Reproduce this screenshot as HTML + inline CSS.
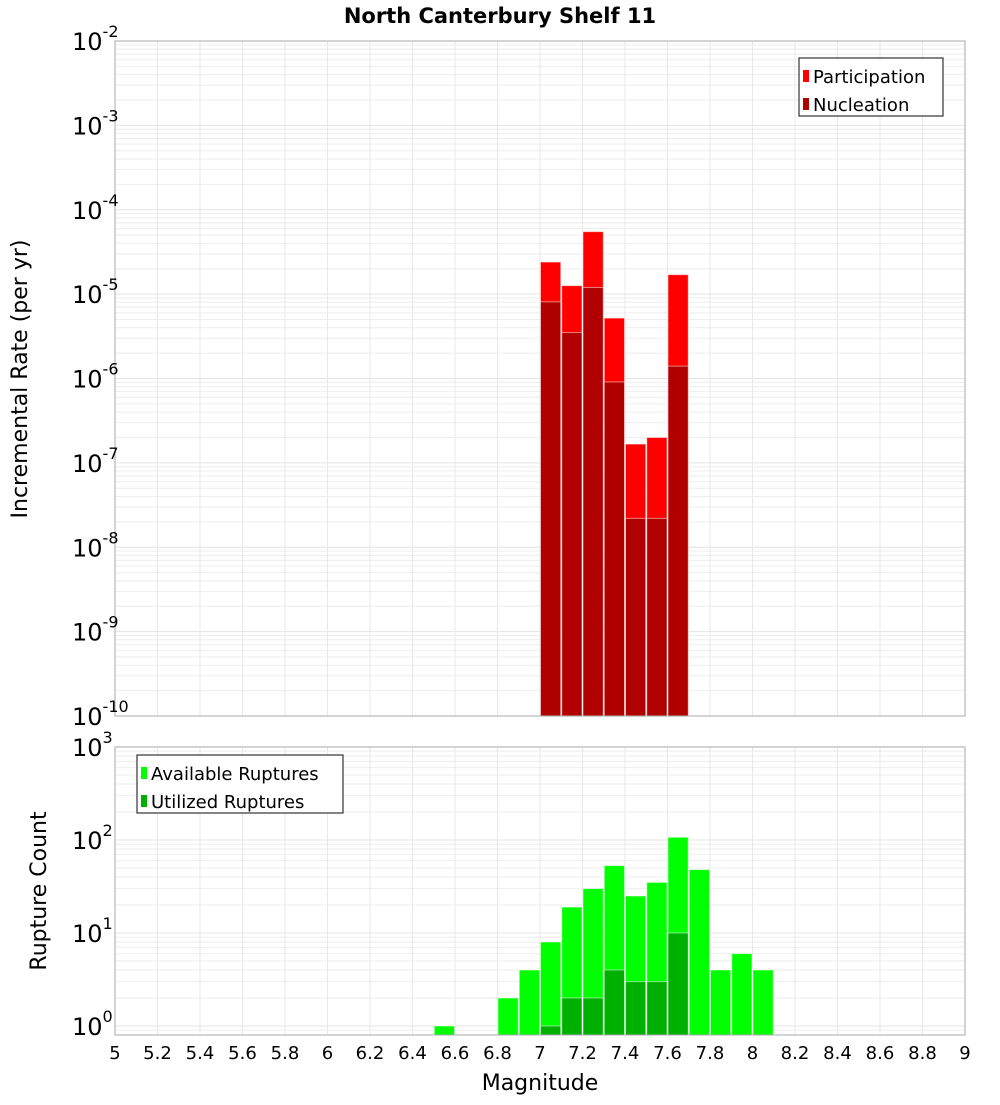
<!DOCTYPE html>
<html><head><meta charset="utf-8"><style>
body{margin:0;background:#fff;width:1000px;height:1100px;overflow:hidden;font-family:"Liberation Sans","DejaVu Sans",sans-serif}
svg text{font-family:"DejaVu Sans","Liberation Sans",sans-serif}
</style></head><body>
<svg id="chart" width="1000" height="1100" xmlns="http://www.w3.org/2000/svg"></svg>
<script>
const binStarts = [7.0,7.1,7.2,7.3,7.4,7.5,7.6];
const participation = [2.4e-5,1.26e-5,5.5e-5,5.2e-6,1.67e-7,2.0e-7,1.7e-5];
const nucleation = [8.1e-6,3.5e-6,1.2e-5,9.1e-7,2.2e-8,2.2e-8,1.4e-6];
const countBins = [6.5,6.8,6.9,7.0,7.1,7.2,7.3,7.4,7.5,7.6,7.7,7.8,7.9,8.0];
const available = [1,2,4,8,19,30,53,25,35,107,48,4,6,4];
const utilizedBins = [7.0,7.1,7.2,7.3,7.4,7.5,7.6];
const utilized = [1,2,2,4,3,3,10];
const xTicks = [5,5.2,5.4,5.6,5.8,6,6.2,6.4,6.6,6.8,7,7.2,7.4,7.6,7.8,8,8.2,8.4,8.6,8.8,9];
const topExps = [-2,-3,-4,-5,-6,-7,-8,-9,-10];
const botExps = [3,2,1,0];

const svg = document.getElementById('chart');
const NS = 'http://www.w3.org/2000/svg';
function mk(tag, attrs, parent){const e=document.createElementNS(NS,tag);for(const k in attrs)e.setAttribute(k,attrs[k]);(parent||svg).appendChild(e);return e;}
const X0=115,X1=965;
const xs = m => X0 + (m-5)/4*(X1-X0);
const T0=41,T1=716;
const yTop = v => T1 - (Math.log10(v)+10)/8*(T1-T0);
const B0=747,B1=1035,BD=93;
const yBot = v => 1026 - Math.log10(v)*BD;

function panel(y0,y1,ymin,ymax,yf,name){
  const g=mk('g',{});
  
  
  mk('rect',{x:X0,y:y0,width:X1-X0,height:y1-y0,fill:'#fff'},g);
  for(let e=ymin;e<ymax;e++){for(let k=1;k<10;k++){const v=k*Math.pow(10,e);const y=yf(v);if(y<y0||y>y1)continue;
    mk('line',{x1:X0,x2:X1,y1:y,y2:y,stroke:k==1?'#e4e4e4':'#eeeeee','stroke-width':1},g);}}
  xTicks.forEach(t=>{const x=xs(t);mk('line',{x1:x,x2:x,y1:y0,y2:y1,stroke:'#e8e8e8','stroke-width':1},g);});
  return g;
}
const gt=panel(T0,T1,-10,-2,yTop,'top-plot-area');
const gb=panel(B0,B1,-1,3,yBot,'bottom-plot-area');

function bar(x0,v,yf,base,fill,name,parent){
  const r=mk('rect',{x:xs(x0)+0.5,y:yf(v),width:xs(x0+0.1)-xs(x0)-1,height:base-yf(v),fill:fill,stroke:'rgba(255,255,255,0.5)','stroke-width':1},parent);
  
  
}
binStarts.forEach((b,i)=>bar(b,participation[i],yTop,T1,'#ff0000','participation-bar',gt));
binStarts.forEach((b,i)=>bar(b,nucleation[i],yTop,T1,'#b00000','nucleation-bar',gt));
countBins.forEach((b,i)=>bar(b,available[i],yBot,B1,'#00ff00','available-bar',gb));
utilizedBins.forEach((b,i)=>bar(b,utilized[i],yBot,B1,'#00b000','utilized-bar',gb));
mk('rect',{x:X0,y:T0,width:X1-X0,height:T1-T0,fill:'none',stroke:'#aaa'});
mk('rect',{x:X0,y:B0,width:X1-X0,height:B1-B0,fill:'none',stroke:'#aaa'});

function ylab(y,e,name){
  const t=mk('text',{x:72,y:y+9,'font-size':24,fill:'#000'});
  
  
  t.appendChild(document.createTextNode('10'));
  const s=mk('tspan',{dy:-13,'font-size':16},t);s.textContent=String(e);
}
topExps.forEach(e=>ylab(yTop(Math.pow(10,e)),e,'y-tick-label-top'));
botExps.forEach(e=>ylab(yBot(Math.pow(10,e)),e,'y-tick-label-bottom'));
xTicks.forEach(t=>{const el=mk('text',{x:xs(t),y:1059,'font-size':18,'text-anchor':'middle'});
  
  
  el.textContent=String(t);});

function txt(attrs,s,name){const e=mk('text',attrs);e.textContent=s;return e;}
txt({x:500,y:23,'font-size':21,'font-weight':'bold','text-anchor':'middle'},'North Canterbury Shelf 11','chart-title');
txt({x:540,y:1090,'font-size':22,'text-anchor':'middle'},'Magnitude','x-axis-title');
txt({x:0,y:0,'font-size':22,'text-anchor':'middle',transform:'translate(27,379) rotate(-90)'},'Incremental Rate (per yr)','y-axis-title-top');
txt({x:0,y:0,'font-size':22,'text-anchor':'middle',transform:'translate(46,891) rotate(-90)'},'Rupture Count','y-axis-title-bottom');

function legend(x,y,w,items,name){
  const g=mk('g',{});
  
  
  mk('rect',{x:x,y:y,width:w,height:58,fill:'#fff',stroke:'#333','stroke-width':1.2},g);
  items.forEach((it,i)=>{const yy=y+19+i*28;
    mk('rect',{x:x+4,y:yy-7,width:6,height:12,fill:it[1]},g);
    const t=mk('text',{x:x+14,y:yy+6,'font-size':18},g);t.textContent=it[0];
    
    });
}
legend(799,58,144,[['Participation','#ff0000'],['Nucleation','#b00000']],'legend-top');
legend(137,755,206,[['Available Ruptures','#00ff00'],['Utilized Ruptures','#00b000']],'legend-bottom');
</script>
</body></html>
